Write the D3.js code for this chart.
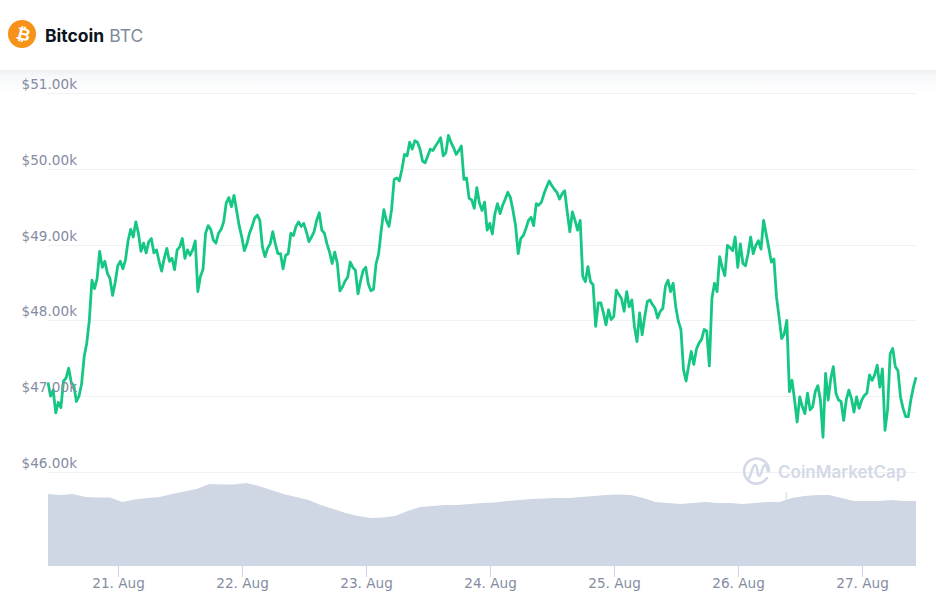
<!DOCTYPE html>
<html>
<head>
<meta charset="utf-8">
<script src="https://cdn.jsdelivr.net/npm/d3@7/dist/d3.min.js"></script>
<style>
  html, body { margin: 0; padding: 0; background: #fff; }
  svg { display: block; }
</style>
</head>
<body>
<script>
// prices in $k, one reading every 30 minutes
var priceDay1 = [47.18,47.00,47.08,46.78,46.92,46.85,47.20,47.24,47.37,47.18,47.14,46.93,47.00,47.16,47.52,47.70,48.00,48.53,48.42,48.55,48.91,48.70,48.78,48.62,48.55,48.33,48.50,48.72,48.78,48.68,48.80,49.05,49.20,49.10,49.30,49.15,48.91,49.02,48.89,49.04,49.08,48.89,48.93,48.78,48.65,48.82,48.95,48.78];
var priceDay2 = [48.82,48.67,48.93,48.97,49.08,48.82,48.93,48.86,48.93,49.05,48.38,48.58,48.67,49.15,49.25,49.20,49.06,49.02,49.15,49.20,49.30,49.55,49.62,49.50,49.65,49.45,49.25,49.10,48.92,49.01,49.15,49.24,49.35,49.39,49.32,48.97,48.84,48.95,49.01,49.17,49.01,48.88,48.88,48.68,48.86,48.88,49.15,49.12];
var priceDay3 = [49.24,49.30,49.24,49.28,49.17,49.04,49.10,49.17,49.32,49.42,49.19,49.15,49.01,48.90,48.75,48.90,48.75,48.39,48.44,48.52,48.57,48.77,48.70,48.66,48.35,48.52,48.66,48.70,48.48,48.39,48.41,48.75,48.88,49.19,49.46,49.32,49.24,49.46,49.86,49.88,49.84,49.99,50.19,50.17,50.35,50.26,50.37,50.35];
var priceDay4 = [50.26,50.10,50.08,50.17,50.26,50.24,50.30,50.35,50.41,50.17,50.21,50.44,50.35,50.28,50.19,50.24,50.30,49.86,49.88,49.61,49.59,49.48,49.75,49.55,49.45,49.56,49.19,49.28,49.14,49.41,49.54,49.41,49.52,49.60,49.69,49.62,49.45,49.25,48.88,49.08,49.12,49.21,49.32,49.36,49.25,49.54,49.52,49.56];
var priceDay5 = [49.67,49.76,49.84,49.78,49.73,49.69,49.60,49.67,49.71,49.43,49.17,49.43,49.32,49.19,49.32,48.58,48.51,48.71,48.51,48.47,47.92,48.23,48.23,48.10,47.94,48.14,48.01,48.05,48.40,48.34,48.29,48.12,48.38,48.18,48.27,47.92,47.72,48.10,47.81,48.05,48.25,48.27,48.21,48.16,48.03,48.12,48.16,48.45];
var priceDay6 = [48.53,48.38,48.49,48.18,47.99,47.88,47.35,47.20,47.40,47.59,47.42,47.62,47.70,47.75,47.88,47.86,47.40,48.29,48.49,48.38,48.84,48.70,48.59,48.99,48.96,48.92,49.10,48.70,49.01,48.75,48.72,48.88,49.10,48.88,48.99,49.05,48.94,49.32,49.14,48.96,48.77,48.81,48.31,48.04,47.76,47.82,48.00,47.06];
var priceDay7 = [47.21,46.95,46.66,46.99,46.86,46.77,47.04,46.82,46.86,47.06,47.14,46.95,46.46,47.30,46.95,47.23,47.39,47.04,46.95,46.93,46.68,46.95,47.08,46.97,46.79,46.99,46.84,46.95,47.01,47.04,47.28,47.21,47.28,47.41,47.12,47.36,46.55,46.82,47.56,47.63,47.39,47.34,46.99,46.84,46.73,46.73,46.95,47.12,47.25];
var prices = [].concat(priceDay1, priceDay2, priceDay3, priceDay4, priceDay5, priceDay6, priceDay7);

// volume, one reading every 2.4 hours, no axis in the picture so the unit is arbitrary
var volumes = [72,71,72,69,68.5,68.5,64,66.5,68,69,72,74.5,77,82,81.5,81.5,83,80,76,72,69,66,61,57,53,50,48,48.5,50,55,59,60,61,61,62,63,63.5,65,66,67,67.5,68,68,69,70,71,71.5,71,68,64,63,62,63,64,63,63,62,63,64,64,68,70,71,71,68,65,65,65,66,65,65];
var volumeSpike = { date: new Date(Date.UTC(2021, 7, 26, 9, 20)), value: 74 };

var yTicks = [46, 47, 48, 49, 50, 51];
var xTicks = [21, 22, 23, 24, 25, 26, 27].map(function (d) { return new Date(Date.UTC(2021, 7, d)); });

var w = 936, h = 612;
var left = 48, right = 916;
var start = new Date(Date.UTC(2021, 7, 20, 10, 27));
var end = new Date(start.getTime() + 168 * 3600000);
var labelFont = "'DejaVu Sans', sans-serif";

var xScale = d3.scaleUtc().domain([start, end]).range([left, right]);
var yScale = d3.scaleLinear().domain([46, 51]).range([472, 93]);
var volScale = d3.scaleLinear().domain([0, 100]).range([566, 466]);

var svg = d3.select("body").append("svg").attr("width", w).attr("height", h);

// header band shadow
var defs = svg.append("defs");
var grad = defs.append("linearGradient").attr("id", "headShadow").attr("x1", 0).attr("x2", 0).attr("y1", 0).attr("y2", 1);
grad.append("stop").attr("offset", 0).attr("stop-color", "#eceef2");
grad.append("stop").attr("offset", 0.25).attr("stop-color", "#f7f8fa");
grad.append("stop").attr("offset", 1).attr("stop-color", "#ffffff");
svg.append("rect").attr("x", 0).attr("y", 70).attr("width", w).attr("height", 24).attr("fill", "url(#headShadow)");

// grid
svg.append("g").selectAll("line").data(yTicks).enter().append("line")
  .attr("x1", left).attr("x2", right)
  .attr("y1", function (d) { return Math.round(yScale(d)) + 0.5; })
  .attr("y2", function (d) { return Math.round(yScale(d)) + 0.5; })
  .attr("stroke", "#eff2f5");

// volume
var volStep = (end.getTime() - start.getTime()) / (volumes.length - 1);
var area = d3.area()
  .x(function (d, i) { return xScale(new Date(start.getTime() + i * volStep)); })
  .y0(volScale(0))
  .y1(function (d) { return volScale(d); });
svg.append("path").attr("d", area(volumes)).attr("fill", "#cfd6e4");
svg.append("line")
  .attr("x1", xScale(volumeSpike.date)).attr("x2", xScale(volumeSpike.date))
  .attr("y1", volScale(0)).attr("y2", volScale(volumeSpike.value))
  .attr("stroke", "#cfd6e4");

// watermark
var logo = svg.append("g").attr("fill", "none").attr("stroke", "#d3d9e6").attr("stroke-width", 2.6).attr("stroke-linecap", "round").attr("stroke-linejoin", "round");
logo.append("path").attr("d", "M767 478 A12.5 12.5 0 1 1 769 470");
logo.append("path").attr("d", "M748 479 C751 478 752 465 755 465 C758 465 757 476 759 476 C762 476 762 465 765 465 C768 465 767 475 769 470");
svg.append("text").attr("x", 778).attr("y", 478)
  .attr("font-family", "Inter, sans-serif").attr("font-size", 17).attr("font-weight", 600)
  .attr("fill", "#d3d9e6").text("CoinMarketCap");

// price line
var line = d3.line()
  .x(function (d, i) { return xScale(new Date(start.getTime() + i * 1800000)); })
  .y(function (d) { return yScale(d); });
svg.append("path").attr("d", line(prices))
  .attr("fill", "none").attr("stroke", "#16c784").attr("stroke-width", 2.8)
  .attr("stroke-linejoin", "round");

// y labels sit above the grid lines, over the plot
svg.append("g").selectAll("text").data(yTicks).enter().append("text")
  .attr("x", 77).attr("y", function (d) { return yScale(d) - 4; })
  .attr("text-anchor", "end")
  .attr("font-family", labelFont).attr("font-size", 13.6)
  .attr("fill", "#858ca2")
  .text(function (d) { return "$" + d3.format(".2f")(d) + "k"; });

// x axis
var xAxis = d3.axisBottom(xScale).tickValues(xTicks).tickSize(11).tickSizeOuter(0)
  .tickFormat(function (d) { return d.getUTCDate() + ". Aug"; });
var gx = svg.append("g").attr("transform", "translate(0,566)").call(xAxis);
gx.select(".domain").remove();
gx.selectAll("line").attr("stroke", "#ccd6eb");
gx.selectAll("text").attr("y", 12).attr("font-family", labelFont).attr("font-size", 13.6).attr("fill", "#858ca2");

// header
svg.append("circle").attr("cx", 22).attr("cy", 34).attr("r", 14).attr("fill", "#f7931a");
svg.append("text").attr("transform", "translate(22,40) rotate(14)")
  .attr("text-anchor", "middle").attr("font-family", "'DejaVu Sans', sans-serif")
  .attr("font-size", 17).attr("font-weight", 700).attr("fill", "#fff").text("₿");
var title = svg.append("text").attr("x", 45).attr("y", 42)
  .attr("font-family", "Inter, sans-serif").attr("font-size", 17.5);
title.append("tspan").attr("font-weight", 700).attr("fill", "#0d1421").text("Bitcoin");
title.append("tspan").attr("dx", 5).attr("font-weight", 400).attr("fill", "#808a9d").text("BTC");
</script>
</body>
</html>
